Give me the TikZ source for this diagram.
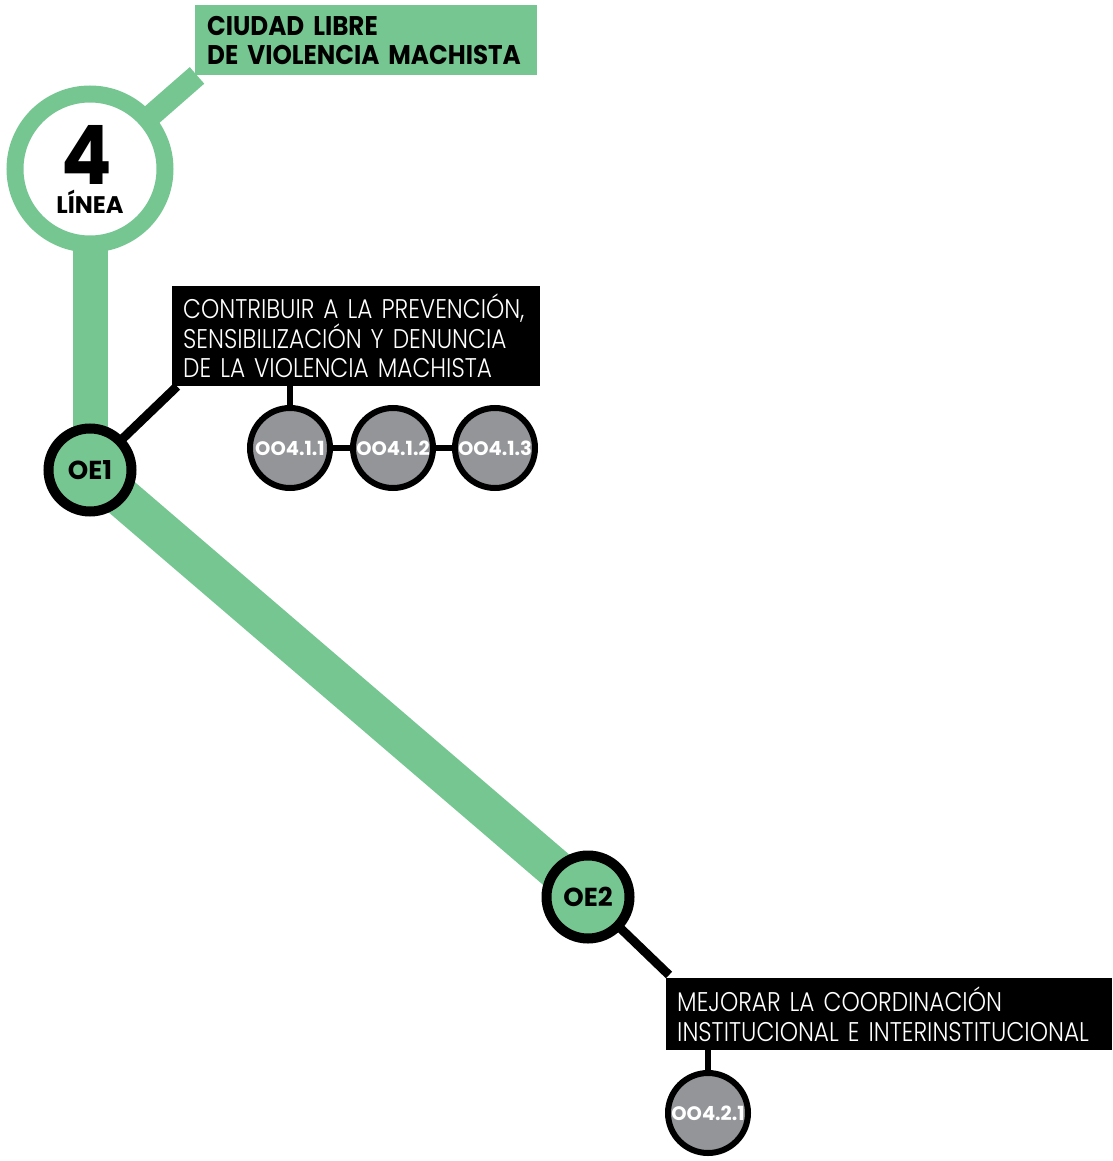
\documentclass[tikz,border=0pt]{standalone}
\usepackage{fontspec}
\setmainfont{Poppins}
\newfontfamily\heavyfont{Poppins Bold}[FakeStretch=0.91]
\newfontfamily\thinfont{Poppins Light}[FakeStretch=0.86]
\usetikzlibrary{backgrounds}
\definecolor{lineagreen}{RGB}{118,198,146}
\definecolor{oogray}{RGB}{147,149,152}

\begin{document}
\begin{tikzpicture}[
		x=1pt, y=-1pt,
		ring/.style={circle, draw=lineagreen, line width=17pt, fill=white, minimum size=150pt, inner sep=0pt},
		oe/.style={circle, draw=black, line width=10pt, fill=lineagreen, minimum size=83pt, inner sep=0pt, font=\bfseries\fontsize{26}{26}\selectfont},
		oo/.style={circle, draw=black, line width=6pt, fill=oogray, minimum size=80pt, inner sep=0pt, text=white, font=\bfseries\fontsize{19.5}{19.5}\selectfont},
		title/.style={fill=lineagreen, anchor=north west, align=left, inner xsep=12pt, inner ysep=0pt, font=\heavyfont\fontsize{27}{29}\selectfont},
		goal/.style={fill=black, text=white, anchor=north west, align=left, inner xsep=11pt, inner ysep=0pt, font=\thinfont\fontsize{27}{29.5}\selectfont},
		track/.style={lineagreen, line width=#1},
		link/.style={black, line width=#1}
		]
		\useasboundingbox (0,0) rectangle (1112,1161);

		% Nodes
		\node[ring] (ring) at (90,169) {};
		\node[anchor=base, inner sep=0pt, font=\heavyfont\fontsize{82}{82}\selectfont] (four) at (87,185) {4};
		\node[anchor=base, inner sep=0pt, font=\bfseries\fontsize{24}{24}\selectfont] (linea) at (90,213) {LÍNEA};
		\node[title, text width=318pt, minimum height=70pt] (title) at (195,5) {CIUDAD LIBRE\\DE VIOLENCIA MACHISTA};

		\node[oe] (oe1) at (90,470) {OE1};
		\node[oe] (oe2) at (588,897) {OE2};

		\node[goal, text width=346pt, minimum height=100pt] (goal1) at (172,286) {CONTRIBUIR A LA PREVENCIÓN,\\SENSIBILIZACIÓN Y DENUNCIA\\DE LA VIOLENCIA MACHISTA};
		\node[goal, text width=424pt, minimum height=72pt] (goal2) at (666,978) {MEJORAR LA COORDINACIÓN\\INSTITUCIONAL E INTERINSTITUCIONAL};

		\node[oo] (oo411) at (290,448) {OO4.1.1};
		\node[oo] (oo412) at (393,448) {OO4.1.2};
		\node[oo] (oo413) at (495,448) {OO4.1.3};
		\node[oo] (oo421) at (708,1113) {OO4.2.1};

		% Lines
		\begin{scope}[on background layer]
			\draw[track=22pt] (ring.center) -- ([xshift=2pt]title.south west);
			\draw[track=35pt] (ring.center) -- (oe1.center);
			\draw[track=40pt] (oe1.center) -- (oe2.center);

			\draw[link=9pt] (oe1.center) -- ([xshift=5pt]goal1.south west);
			\draw[link=6pt] (oo411.center) -- (oo411 |- goal1.south);
			\draw[link=6pt] (oo411) -- (oo412);
			\draw[link=6pt] (oo412) -- (oo413);

			\draw[link=9pt] (oe2.center) -- ([shift={(3pt,3pt)}]goal2.north west);
			\draw[link=6pt] (oo421.center) -- (oo421 |- goal2.south);
		\end{scope}

	\end{tikzpicture}
\end{document}
